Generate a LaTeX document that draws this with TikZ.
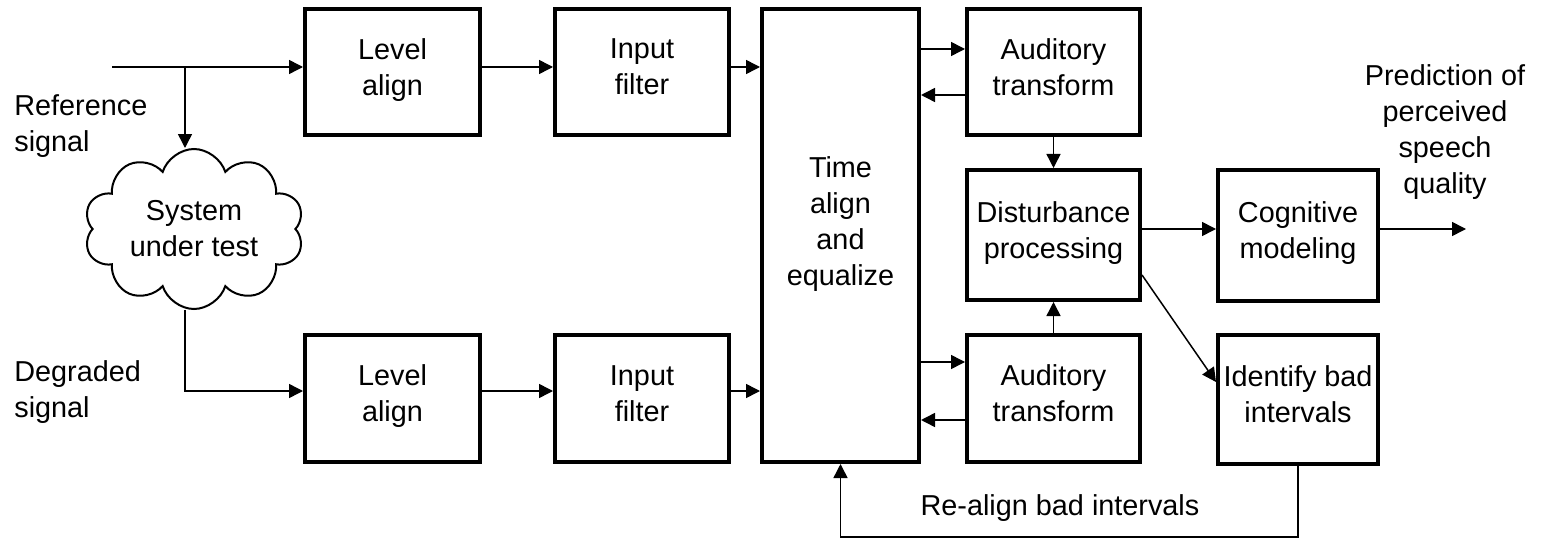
\documentclass[tikz,border=0pt]{standalone}
\usepackage{fontspec}
\setmainfont{Liberation Sans}
\usetikzlibrary{arrows.meta,shapes.symbols}
\tikzset{
  blk/.style={draw, line width=0.08cm, inner sep=0.05cm, align=center, text depth=0.2cm},
  txt/.style={inner sep=0pt, align=center},
  wire/.style={line width=0.03cm},
  arr/.style={wire, -{Triangle[length=0.28cm,width=0.28cm]}},
}

\begin{document}
\begin{tikzpicture}[font=\fontsize{16.4}{20.5}\selectfont]
\useasboundingbox (0,0) rectangle (30.98,-10.8);

\draw (7.85,-1.44) node[blk, minimum width=3.5cm, minimum height=2.52cm] (lvlA) {Level\\align};
\draw (12.84,-1.44) node[blk, minimum width=3.48cm, minimum height=2.52cm] (inA) {Input\\filter};
\draw (7.85,-7.97) node[blk, minimum width=3.5cm, minimum height=2.54cm] (lvlB) {Level\\align};
\draw (12.84,-7.97) node[blk, minimum width=3.48cm, minimum height=2.54cm] (inB) {Input\\filter};

\draw (16.81,-4.71) node[blk, minimum width=3.14cm, minimum height=9.06cm, text depth=0.56cm] (time) {Time\\align\\and\\equalize};

\draw (21.07,-1.44) node[blk, minimum width=3.46cm, minimum height=2.52cm] (audA) {Auditory\\transform};
\draw (21.07,-4.70) node[blk, minimum width=3.46cm, minimum height=2.6cm] (dist) {Disturbance\\processing};
\draw (21.07,-7.97) node[blk, minimum width=3.46cm, minimum height=2.54cm] (audB) {Auditory\\transform};

\draw (25.96,-4.71) node[blk, minimum width=3.2cm, minimum height=2.6cm] (cog) {Cognitive\\modeling};
\draw (25.96,-7.98) node[blk, minimum width=3.2cm, minimum height=2.58cm] (bad) {Identify bad\\intervals};

\draw (3.88,-4.58) node[cloud, draw, line width=0.04cm, cloud puffs=10, cloud puff arc=145, cloud ignores aspect,
       minimum width=4.4cm, minimum height=3.2cm, inner sep=0pt, align=center] (sut) {System\\under test};

\draw (0.28,-2.52) node[txt, anchor=west, align=left] (reftxt) {Reference\\signal};
\draw (0.28,-7.84) node[txt, anchor=west, align=left] (degtxt) {Degraded\\signal};
\draw (28.9,-2.64) node[txt] (mos) {Prediction of\\perceived\\speech\\quality};
\draw (21.2,-10.16) node[txt] (lbl) {Re-align bad intervals};

\coordinate (refin) at (2.24,-1.34);
\coordinate (tap) at (3.70,-1.34);
\coordinate (rowB) at (3.70,-7.82);
\coordinate (rowC) at ([yshift=0.13cm]cog.west);
\coordinate (out) at (29.32,-4.58);
\coordinate (fbk) at (0,-10.74);
\coordinate (fwdA) at ([yshift=0.46cm]audA.west);
\coordinate (bckA) at ([yshift=-0.46cm]audA.west);
\coordinate (fwdB) at ([yshift=0.73cm]audB.west);
\coordinate (bckB) at ([yshift=-0.43cm]audB.west);

\draw[arr] (refin) -- (lvlA.west |- refin);
\draw[arr] (tap) -- (tap |- sut.north);
\draw[arr] (tap |- sut.south) -- (rowB) -- (lvlB.west |- rowB);
\draw[arr] (lvlA.east |- refin) -- (inA.west |- refin);
\draw[arr] (inA.east |- refin) -- (time.west |- refin);
\draw[arr] (lvlB.east |- rowB) -- (inB.west |- rowB);
\draw[arr] (inB.east |- rowB) -- (time.west |- rowB);

\draw[arr] (time.east |- fwdA) -- (fwdA);
\draw[arr] (bckA) -- (time.east |- bckA);
\draw[arr] (time.east |- fwdB) -- (fwdB);
\draw[arr] (bckB) -- (time.east |- bckB);

\draw[arr] (audA.south) -- (dist.north);
\draw[arr] (audB.north) -- (dist.south);
\draw[arr] (dist.east |- rowC) -- (rowC);
\draw[arr] (cog.east |- rowC) -- (out);
\draw[arr] ([yshift=-0.8cm]dist.east) -- ([yshift=0.34cm]bad.west);
\draw[arr] (bad.south) |- (time.south |- fbk) -- (time.south);
\end{tikzpicture}
\end{document}
